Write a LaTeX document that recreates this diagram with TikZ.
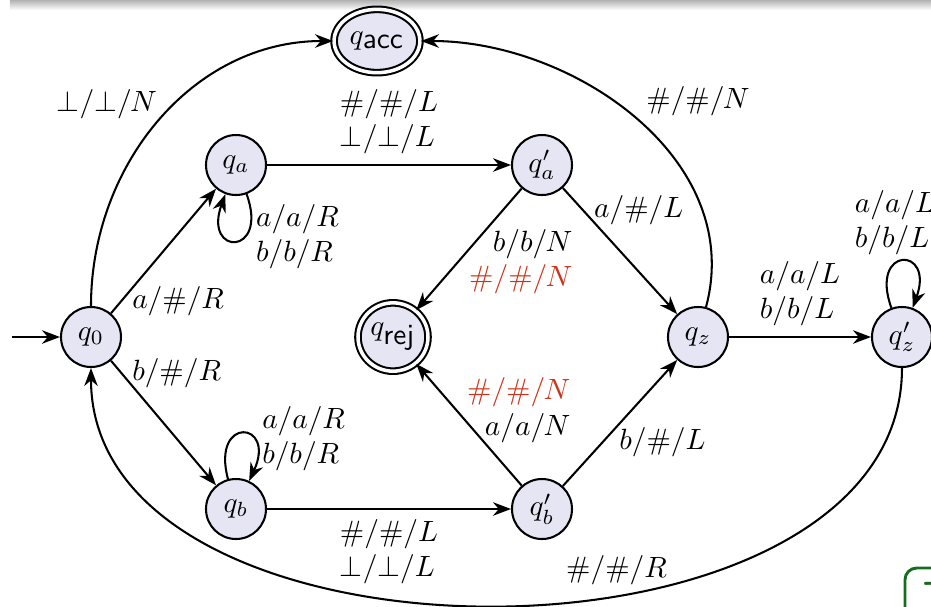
\documentclass[tikz,border=0pt]{standalone}
\usetikzlibrary{positioning, arrows.meta, shapes.geometric}
\definecolor{statefill}{RGB}{229,229,243}
\definecolor{alertred}{RGB}{204,51,26}
\definecolor{blockgreen}{RGB}{20,110,30}

\begin{document}
\begin{tikzpicture}[
        state/.style={circle, draw, fill=statefill, minimum size=0.72cm, inner sep=0pt},
        halt/.style={ellipse, draw, double, double distance=1.2pt, fill=statefill, inner sep=0pt},
        lbl/.style={align=left},
        on grid, line width=0.7pt,
        ->, >=Stealth
        ]
        \useasboundingbox (-1.092,-3.228) rectangle (10.08,4.044);
        % Slide leftovers
        \shade[-, top color=gray!60, bottom color=white] (-0.972,4.044) rectangle (10.08,3.924);
        \draw[-, blockgreen, line width=1pt, rounded corners=4pt] (9.768,-3.4) -- (9.768,-2.772) -- (10.4,-2.772);
        \node[anchor=base west, text=blockgreen, inner sep=0pt] (blk) at (9.972,-3.18) {\textsf{\textbf{T}}};

        % Define the nodes
        \node[state] (q0) {$q_0$};
        \node[state] (qa) [above right=2.064cm and 1.74cm of q0] {$q_a$};
        \node[state] (qb) [below right=2.064cm and 1.74cm of q0] {$q_b$};
        \node[state] (qa2) [right=3.672cm of qa] {$q'_a$};
        \node[state] (qb2) [right=3.672cm of qb] {$q'_b$};
        \node[halt, minimum width=0.84cm, minimum height=0.82cm] (qrej) [right=3.624cm of q0] {$q_{\textsf{rej}}$};
        \node[state] (qz) [below right=2.064cm and 1.872cm of qa2] {$q_z$};
        \node[state] (qz2) [right=2.448cm of qz] {$q'_z$};
        \node[halt, minimum width=1.03cm, minimum height=0.76cm] (qacc) [above right=1.488cm and 1.692cm of qa] {$q_{\textsf{acc}}$};
        \coordinate [left=0.948cm of q0] (init);

        % Draw the arrows
        \draw (init) -- (q0);
        \draw (q0) -- node[pos=0.1, right] {$a/\#/R$} (qa);
        \draw (q0) -- node[pos=0.1, right] {$b/\#/R$} (qb);
        \draw (q0) to[out=90, in=180] node[pos=0.5, above left, xshift=0.1cm, yshift=-0.1cm] {$\bot/\bot/N$} (qacc);
        \draw (qa) to[out=-70, in=-110, loop] node[pos=0.35, right, lbl] {$a/a/R$\\$b/b/R$} (qa);
        \draw (qb) to[out=105, in=65, loop] node[pos=0.65, right, lbl] {$a/a/R$\\$b/b/R$} (qb);
        \draw (qa) -- node[above, lbl] {$\#/\#/L$\\$\bot/\bot/L$} (qa2);
        \draw (qb) -- node[below, lbl] {$\#/\#/L$\\$\bot/\bot/L$} (qb2);
        \draw (qa2) -- node[pos=0.6, right, align=right] {$b/b/N$\\\textcolor{alertred}{$\#/\#/N$}} (qrej);
        \draw (qb2) -- node[pos=0.62, right, align=right] {\textcolor{alertred}{$\#/\#/N$}\\$a/a/N$} (qrej);
        \draw (qa2) -- node[pos=0.18, right] {$a/\#/L$} (qz);
        \draw (qb2) -- node[pos=0.4, right, yshift=-0.08cm] {$b/\#/L$} (qz);
        \draw (qz) to[out=75, in=0] node[pos=0.5, above right, yshift=-0.1cm] {$\#/\#/N$} (qacc);
        \draw (qz) -- node[above, lbl] {$a/a/L$\\$b/b/L$} (qz2);
        \draw (qz2) to[out=110, in=70, loop] node[above, lbl, xshift=-0.084cm, yshift=-0.05cm] {$a/a/L$\\$b/b/L$} (qz2);
        \draw (qz2) to[out=-90, in=-90] node[pos=0.4, above] {$\#/\#/R$} (q0);
    \end{tikzpicture}
\end{document}
